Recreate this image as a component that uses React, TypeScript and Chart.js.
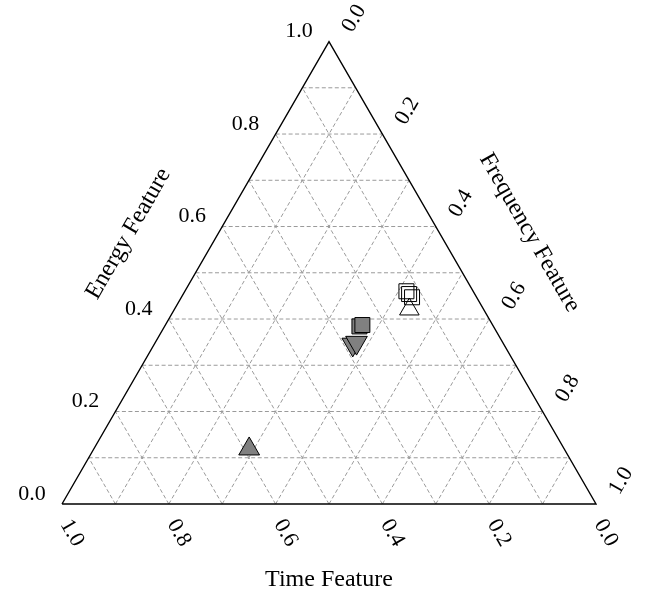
import { useEffect, useRef } from "react";
import Chart from "chart.js/auto";

// Ternary data, each point as [time, frequency, energy]
const filledUpTriangles = [[0.59, 0.291, 0.119]];
const filledSquares = [
  [0.251, 0.365, 0.384],
  [0.244, 0.369, 0.387],
];
const filledDownTriangles = [
  [0.283, 0.372, 0.345],
  [0.274, 0.377, 0.349],
];
const openSquares = [
  [0.125, 0.415, 0.46],
  [0.123, 0.423, 0.454],
  [0.121, 0.432, 0.447],
];
const openUpTriangles = [[0.139, 0.44, 0.421]];

const tickValues = [0, 0.2, 0.4, 0.6, 0.8, 1.0];
const tickLabels = ["0.0", "0.2", "0.4", "0.6", "0.8", "1.0"];
const gridValues = [0.1, 0.2, 0.3, 0.4, 0.5, 0.6, 0.7, 0.8, 0.9];
const energyTitle = "Energy Feature";
const frequencyTitle = "Frequency Feature";
const timeTitle = "Time Feature";

const SQ3 = Math.sqrt(3) / 2;
function toXY(t: number, f: number, e: number) {
  const s = t + f + e;
  const ff = f / s;
  const ee = e / s;
  return { x: ff + ee / 2, y: ee * SQ3 };
}
const pts = (arr: number[][]) => arr.map((p) => toXY(p[0], p[1], p[2]));

export default function App() {
  const ref = useRef<HTMLCanvasElement | null>(null);
  useEffect(() => {
    if (!ref.current) return;
    const gridDatasets: any[] = [];
    gridValues.forEach((v) => {
      const lines = [
        [toXY(1 - v, 0, v), toXY(0, 1 - v, v)],
        [toXY(1 - v, v, 0), toXY(0, v, 1 - v)],
        [toXY(v, 1 - v, 0), toXY(v, 0, 1 - v)],
      ];
      lines.forEach((d) =>
        gridDatasets.push({
          type: "line",
          data: d,
          borderColor: "#9a9a9a",
          borderWidth: 1,
          borderDash: [4, 2.5],
          pointRadius: 0,
          fill: false,
          order: 10,
        })
      );
    });
    const frame = {
      type: "line",
      data: [toXY(1, 0, 0), toXY(0, 1, 0), toXY(0, 0, 1), toXY(1, 0, 0)],
      borderColor: "#000",
      borderWidth: 1.4,
      pointRadius: 0,
      fill: false,
      order: 5,
    };
    const marker = (data: any, style: string, r: number, fillC: string, rot: number, order: number) => ({
      type: "scatter",
      data,
      pointStyle: style,
      pointRadius: r,
      pointRotation: rot,
      backgroundColor: fillC,
      borderColor: "#000",
      borderWidth: 1,
      order,
    });
    const drawText = (ctx: CanvasRenderingContext2D, s: string, x: number, y: number, rot: number) => {
      ctx.save();
      ctx.translate(x, y);
      ctx.rotate(rot);
      ctx.fillText(s, 0, 0);
      ctx.restore();
    };
    const textPlugin = {
      id: "ternaryText",
      afterDraw(chart: any) {
        const ctx: CanvasRenderingContext2D = chart.ctx;
        const xs = chart.scales.x;
        const ys = chart.scales.y;
        const px = (p: { x: number; y: number }) => [xs.getPixelForValue(p.x), ys.getPixelForValue(p.y)];
        ctx.save();
        ctx.fillStyle = "#000";
        ctx.textAlign = "center";
        ctx.textBaseline = "middle";
        ctx.font = '22px "Liberation Serif"';
        tickValues.forEach((v, i) => {
          const [lx, ly] = px(toXY(1 - v, 0, v));
          drawText(ctx, tickLabels[i], lx - 30, ly - 10, 0);
          const [rx, ry] = px(toXY(0, v, 1 - v));
          drawText(ctx, tickLabels[i], rx + 25, ry - 23, -Math.PI / 3);
          const [bx, by] = px(toXY(v, 1 - v, 0));
          drawText(ctx, tickLabels[i], bx + 10, by + 29, Math.PI / 3);
        });
        ctx.font = '24px "Liberation Serif"';
        const [ex, ey] = px(toXY(0.5, 0, 0.5));
        drawText(ctx, energyTitle, ex - 67, ey - 39, -Math.PI / 3);
        const [fx, fy] = px(toXY(0, 0.5, 0.5));
        drawText(ctx, frequencyTitle, fx + 67, fy - 40, Math.PI / 3);
        const [tx, ty] = px(toXY(0.5, 0.5, 0));
        drawText(ctx, timeTitle, tx, ty + 76, 0);
        ctx.restore();
      },
    };
    const chart = new Chart(ref.current, {
      type: "scatter",
      data: {
        datasets: [
          marker(pts(openUpTriangles), "triangle", 11.3, "rgba(0,0,0,0)", 0, 0),
          marker(pts(openSquares), "rect", 10.6, "rgba(0,0,0,0)", 0, 1),
          marker(pts(filledDownTriangles), "triangle", 12.5, "#808080", 180, 2),
          marker(pts(filledSquares), "rect", 10.6, "#808080", 0, 3),
          marker(pts(filledUpTriangles), "triangle", 12, "#808080", 0, 4),
          frame,
          ...gridDatasets,
        ] as any,
      },
      options: {
        animation: false,
        responsive: false,
        devicePixelRatio: 1,
        layout: { padding: 0, autoPadding: false },
        plugins: { legend: { display: false }, tooltip: { enabled: false } },
        scales: {
          x: { type: "linear", min: -62 / 534, max: 584 / 534, display: false },
          y: { type: "linear", min: -94 / 534, max: 504 / 534, display: false },
        },
      } as any,
      plugins: [textPlugin],
    });
    return () => chart.destroy();
  }, []);
  return (
    <div style={{ position: "absolute", left: 0, top: 0, width: 646, height: 598, background: "#fff" }}>
      <canvas ref={ref} width={646} height={598} style={{ display: "block" }} />
    </div>
  );
}
